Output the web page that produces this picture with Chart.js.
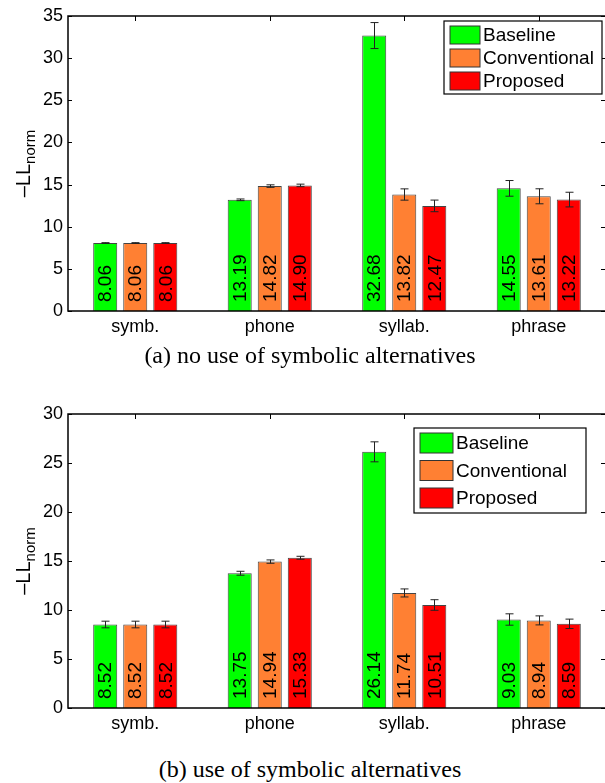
<!DOCTYPE html>
<html>
<head>
<meta charset="utf-8">
<script src="https://cdn.jsdelivr.net/npm/chart.js@4.4.0/dist/chart.umd.min.js"></script>
<style>
  html, body { margin: 0; padding: 0; background: #fff; width: 605px; height: 783px; overflow: hidden; position: relative; }
  .panel { position: absolute; left: 0; width: 610px; }
  .caption { position: absolute; left: 0; width: 620px; text-align: center; color: #000;
             font-family: "Liberation Serif", "Times New Roman", serif; font-size: 24px; line-height: 28px; }
</style>
</head>
<body>
<div class="panel" style="top:0;height:345px"><canvas id="chartA"></canvas></div>
<div class="caption" style="top:341px">(a) no use of symbolic alternatives</div>
<div class="panel" style="top:390px;height:350px"><canvas id="chartB"></canvas></div>
<div class="caption" style="top:755px">(b) use of symbolic alternatives</div>
<script>
// categories and series
const categories = ['symb.', 'phone', 'syllab.', 'phrase'];
const seriesNames = ['Baseline', 'Conventional', 'Proposed'];
const seriesColors = ['#00ff00', '#ff8033', '#ff0000'];
const yTicksA = [0, 5, 10, 15, 20, 25, 30, 35];
const yTicksB = [0, 5, 10, 15, 20, 25, 30];

// (a) no use of symbolic alternatives
const noAltBaseline     = [8.06, 13.19, 32.68, 14.55];
const noAltConventional = [8.06, 14.82, 13.82, 13.61];
const noAltProposed     = [8.06, 14.90, 12.47, 13.22];
const noAltBaselineErr     = [0.05, 0.10, 1.54, 0.93];
const noAltConventionalErr = [0.05, 0.15, 0.67, 0.89];
const noAltProposedErr     = [0.05, 0.15, 0.69, 0.87];

// (b) use of symbolic alternatives
const altBaseline     = [8.52, 13.75, 26.14, 9.03];
const altConventional = [8.52, 14.94, 11.74, 8.94];
const altProposed     = [8.52, 15.33, 10.51, 8.59];
const altBaselineErr     = [0.34, 0.20, 1.02, 0.58];
const altConventionalErr = [0.34, 0.17, 0.41, 0.46];
const altProposedErr     = [0.34, 0.15, 0.54, 0.48];

const FONT = '"Liberation Sans", Arial, Helvetica, sans-serif';

// error bars, value labels, box, ticks, legend, y title
const decorPlugin = {
    id: 'decor',
    afterDatasetsDraw(chart, args, opts) {
        const ctx = chart.ctx;
        const xs = chart.scales.x, ys = chart.scales.y;
        const area = chart.chartArea;
        ctx.save();

        // error bars
        ctx.strokeStyle = '#222';
        ctx.lineWidth = 1;
        chart.data.datasets.forEach((ds, i) => {
            const meta = chart.getDatasetMeta(i);
            meta.data.forEach((bar, j) => {
                const v = ds.data[j], e = ds.errors[j];
                const yt = ys.getPixelForValue(v + e);
                const yb = ys.getPixelForValue(v - e);
                const x = Math.round(bar.x) + 0.5;
                ctx.beginPath();
                ctx.moveTo(x, yt); ctx.lineTo(x, yb);
                ctx.moveTo(x - 4, yt); ctx.lineTo(x + 4, yt);
                ctx.moveTo(x - 4, yb); ctx.lineTo(x + 4, yb);
                ctx.stroke();
            });
        });

        // values written inside bars
        ctx.fillStyle = '#000';
        ctx.font = '19px ' + FONT;
        ctx.textAlign = 'left';
        ctx.textBaseline = 'middle';
        chart.data.datasets.forEach((ds, i) => {
            const meta = chart.getDatasetMeta(i);
            meta.data.forEach((bar, j) => {
                ctx.save();
                ctx.translate(bar.x + 1, bar.base - 9);
                ctx.rotate(-Math.PI / 2);
                ctx.fillText(ds.data[j].toFixed(2), 0, 0);
                ctx.restore();
            });
        });

        // axes box
        ctx.strokeStyle = '#000';
        ctx.lineWidth = 1.5;
        ctx.strokeRect(area.left, area.top, area.right - area.left, area.bottom - area.top);

        // inward ticks
        ctx.lineWidth = 1;
        categories.forEach((c, j) => {
            const x = Math.round(xs.getPixelForValue(j)) + 0.5;
            ctx.beginPath();
            ctx.moveTo(x, area.top); ctx.lineTo(x, area.top + 5);
            ctx.stroke();
        });
        opts.ticks.forEach(t => {
            const y = Math.round(ys.getPixelForValue(t)) + 0.5;
            ctx.beginPath();
            ctx.moveTo(area.right, y); ctx.lineTo(area.right - 5, y);
            ctx.moveTo(area.left, y); ctx.lineTo(area.left + 4, y);
            ctx.stroke();
        });

        // legend
        const L = opts.legend;
        ctx.fillStyle = '#fff';
        ctx.fillRect(L.x, L.y, L.w, L.h);
        ctx.strokeStyle = '#000';
        ctx.lineWidth = 1.2;
        ctx.strokeRect(L.x, L.y, L.w, L.h);
        ctx.font = '19px ' + FONT;
        ctx.textAlign = 'left';
        ctx.textBaseline = 'middle';
        chart.data.datasets.forEach((ds, i) => {
            const cy = L.firstRow + i * L.rowH;
            ctx.fillStyle = ds.backgroundColor;
            ctx.fillRect(L.swX, cy - L.swH / 2, L.swW, L.swH);
            ctx.strokeStyle = '#333';
            ctx.lineWidth = 1;
            ctx.strokeRect(L.swX, cy - L.swH / 2, L.swW, L.swH);
            ctx.fillStyle = '#000';
            ctx.fillText(ds.label, L.swX + L.swW + 3, cy + 1);
        });

        // y title with subscript
        const cy = (area.top + area.bottom) / 2;
        ctx.save();
        ctx.translate(24, cy);
        ctx.rotate(-Math.PI / 2);
        ctx.font = '20px ' + FONT;
        const w1 = ctx.measureText('\u2013LL').width;
        ctx.font = '15px ' + FONT;
        const w2 = ctx.measureText('norm').width;
        const start = -(w1 + w2) / 2;
        ctx.fillStyle = '#000';
        ctx.textBaseline = 'middle';
        ctx.font = '20px ' + FONT;
        ctx.fillText('\u2013LL', start, 0);
        ctx.font = '15px ' + FONT;
        ctx.fillText('norm', start + w1, 7);
        ctx.restore();

        ctx.restore();
    }
};

function makeChart(id, values, errors, yMax, ticks, topPad, xHeight, legend) {
    const datasets = seriesNames.map((name, i) => ({
        label: name,
        data: values[i],
        errors: errors[i],
        backgroundColor: seriesColors[i],
        borderColor: '#444',
        borderWidth: 1,
        barPercentage: 0.8,
        categoryPercentage: 0.67
    }));
    return new Chart(document.getElementById(id).getContext('2d'), {
        type: 'bar',
        data: { labels: categories, datasets: datasets },
        options: {
            responsive: true,
            maintainAspectRatio: false,
            animation: false,
            layout: { padding: { top: topPad, right: 4, left: 0, bottom: 0 } },
            plugins: {
                legend: { display: false },
                tooltip: { enabled: false },
                decor: { ticks: ticks, legend: legend }
            },
            scales: {
                x: {
                    grid: { display: false, drawTicks: false },
                    border: { display: false },
                    ticks: { color: '#000', font: { family: FONT, size: 18 }, padding: 5 },
                    afterFit: s => { s.height = xHeight; }
                },
                y: {
                    min: 0,
                    max: yMax,
                    grid: { display: false, drawTicks: false },
                    border: { display: false },
                    ticks: { stepSize: 5, color: '#000', font: { family: FONT, size: 18 }, padding: 5 },
                    afterFit: s => { s.width = 68; }
                }
            }
        },
        plugins: [decorPlugin]
    });
}

makeChart('chartA',
    [noAltBaseline, noAltConventional, noAltProposed],
    [noAltBaselineErr, noAltConventionalErr, noAltProposedErr],
    35, yTicksA, 16, 34,
    { x: 444, y: 21, w: 158, h: 73, swX: 450, swW: 30, swH: 18, firstRow: 35, rowH: 23 });

makeChart('chartB',
    [altBaseline, altConventional, altProposed],
    [altBaselineErr, altConventionalErr, altProposedErr],
    30, yTicksB, 24, 32,
    { x: 414, y: 38, w: 172, h: 85, swX: 420, swW: 33, swH: 20, firstRow: 53, rowH: 27.5 });
</script>
</body>
</html>
